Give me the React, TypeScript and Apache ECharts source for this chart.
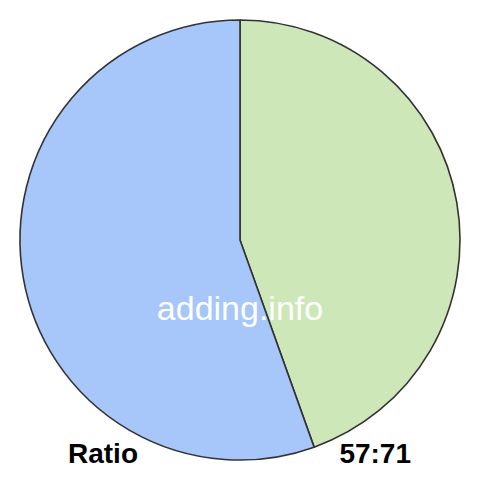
import React, { useEffect, useRef } from "react";
import * as echarts from "echarts";

const sliceNames = ["First", "Second"];
const sliceValues = [57, 71];
const sliceColors = ["#cde7b9", "#a7c6fa"];
const ratioLabel = "Ratio";
const ratioText = `${sliceValues[0]}:${sliceValues[1]}`;
const watermark = "adding.info";

export default function App() {
  const ref = useRef<HTMLDivElement>(null);

  useEffect(() => {
    if (!ref.current) return;
    const chart = echarts.init(ref.current, undefined, { renderer: "svg" });
    const font = "Liberation Sans, Arial, sans-serif";
    chart.setOption({
      animation: false,
      backgroundColor: "#ffffff",
      series: [
        {
          type: "pie",
          center: [240, 240],
          radius: [0, 220],
          startAngle: 90,
          clockwise: true,
          label: { show: false },
          labelLine: { show: false },
          emphasis: { disabled: true },
          itemStyle: { borderColor: "#333333", borderWidth: 1.6 },
          data: sliceNames.map((name, i) => ({
            name,
            value: sliceValues[i],
            itemStyle: { color: sliceColors[i] },
          })),
        },
      ],
      graphic: [
        {
          type: "text",
          x: 240,
          y: 308,
          z: 100,
          style: {
            text: watermark,
            fill: "#ffffff",
            font: `34px ${font}`,
            align: "center",
            verticalAlign: "middle",
          },
        },
        {
          type: "text",
          x: 68,
          y: 453,
          z: 100,
          style: {
            text: ratioLabel,
            fill: "#000000",
            font: `bold 28px ${font}`,
            align: "left",
            verticalAlign: "middle",
          },
        },
        {
          type: "text",
          x: 411,
          y: 453,
          z: 100,
          style: {
            text: ratioText,
            fill: "#000000",
            font: `bold 28px ${font}`,
            align: "right",
            verticalAlign: "middle",
          },
        },
      ],
    });
    return () => chart.dispose();
  }, []);

  return (
    <div
      ref={ref}
      style={{ position: "fixed", left: 0, top: 0, width: 480, height: 480 }}
    />
  );
}
